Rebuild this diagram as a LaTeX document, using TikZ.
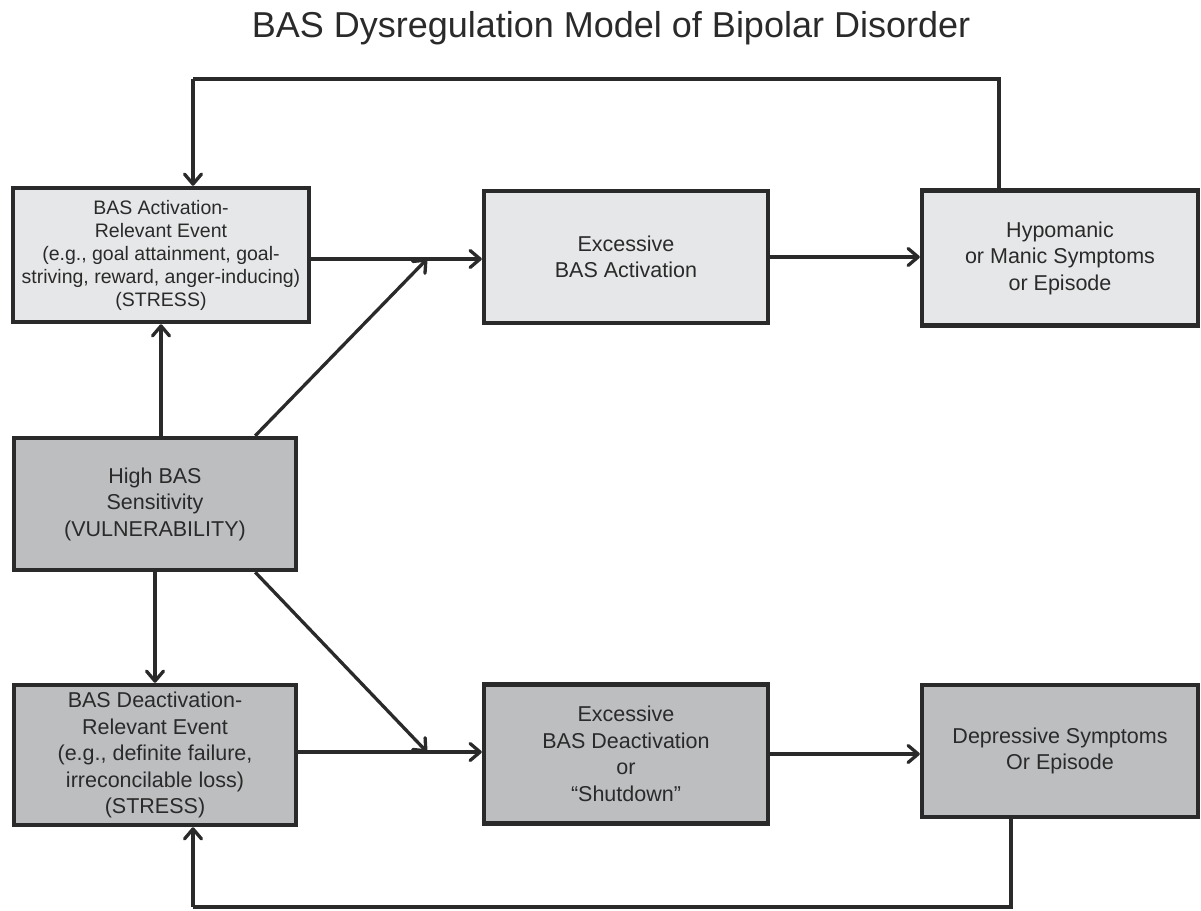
\documentclass[tikz,border=0pt]{standalone}
\usepackage{fontspec}
\setmainfont{Liberation Sans}
\usetikzlibrary{arrows.meta}
\definecolor{boxlight}{HTML}{E6E7E8}
\definecolor{boxdark}{HTML}{BCBEC0}
\definecolor{ink}{HTML}{2B2A2B}
\tikzstyle{box}=[draw=ink,line width=4.5pt,align=center,text=ink,inner sep=2pt,
  font=\fontsize{21.5}{26.5}\selectfont]
\tikzstyle{lightbox}=[box,fill=boxlight]
\tikzstyle{darkbox}=[box,fill=boxdark]
\tikzstyle{arr}=[-{Straight Barb[length=10pt,width=17pt,round]},line width=3.3pt,draw=ink]
\tikzstyle{loop}=[line width=3.3pt,draw=ink]

\begin{document}
\begin{tikzpicture}[x=1pt,y=-1pt]
	\useasboundingbox (0,0) rectangle (1201,910);

	\node[text=ink,font=\fontsize{36}{40}\selectfont] (title) at (611,28) {BAS Dysregulation Model of Bipolar Disorder};

	%top row
	\node[lightbox,minimum width=296pt,minimum height=134pt,
	  font=\fontsize{19.5}{23}\selectfont] (act) at (161,255)
	  {BAS Activation-\\Relevant Event\\(e.g., goal attainment, goal-\\striving, reward, anger-inducing)\\(STRESS)};
	\node[lightbox,minimum width=284pt,minimum height=132pt] (exc) at (626,257)
	  {Excessive\\BAS Activation};
	\node[lightbox,minimum width=276pt,minimum height=135pt] (hypo) at (1060,258)
	  {Hypomanic\\or Manic Symptoms\\or Episode};

	%middle
	\node[darkbox,minimum width=282pt,minimum height=132pt] (sens) at (155,504)
	  {High BAS\\Sensitivity\\(VULNERABILITY)};

	%bottom row
	\node[darkbox,minimum width=282pt,minimum height=140pt] (dact) at (155,755)
	  {BAS Deactivation-\\Relevant Event\\(e.g., definite failure,\\irreconcilable loss)\\(STRESS)};
	\node[darkbox,minimum width=284pt,minimum height=139pt] (dexc) at (626,754)
	  {Excessive\\BAS Deactivation\\or\\“Shutdown”};
	\node[darkbox,minimum width=276pt,minimum height=132pt] (dep) at (1060,751)
	  {Depressive Symptoms\\Or Episode};

	\coordinate (upmeet) at (427,259);
	\coordinate (downmeet) at (427,752);
	\coordinate (ftopR) at (999,79);
	\coordinate (ftopL) at (193,79);
	\coordinate (fbotR) at (1011,907);
	\coordinate (fbotL) at (193,907);

	%arrows
	\draw[arr] (act.east |- upmeet) -- (exc.west |- upmeet);
	\draw[arr] (exc.east) -- (hypo.west |- exc.east);
	\draw[arr] (dact.east |- downmeet) -- (dexc.west |- downmeet);
	\draw[arr] (dexc.east) -- (dep.west |- dexc.east);
	\draw[arr] (sens.north -| act.south) -- (act.south);
	\draw[arr] (sens.south) -- (sens.south |- dact.north);
	\draw[arr] ([xshift=-43pt]sens.north east) -- (upmeet);
	\draw[arr] ([xshift=-43pt]sens.south east) -- (downmeet);

	%feedback loops
	\draw[loop] (ftopR |- hypo.north) -- (ftopR) -- (ftopL);
	\draw[arr] (ftopL) -- (ftopL |- act.north);
	\draw[loop] (fbotR |- dep.south) -- (fbotR) -- (fbotL);
	\draw[arr] (fbotL) -- (fbotL |- dact.south);
\end{tikzpicture}
\end{document}
